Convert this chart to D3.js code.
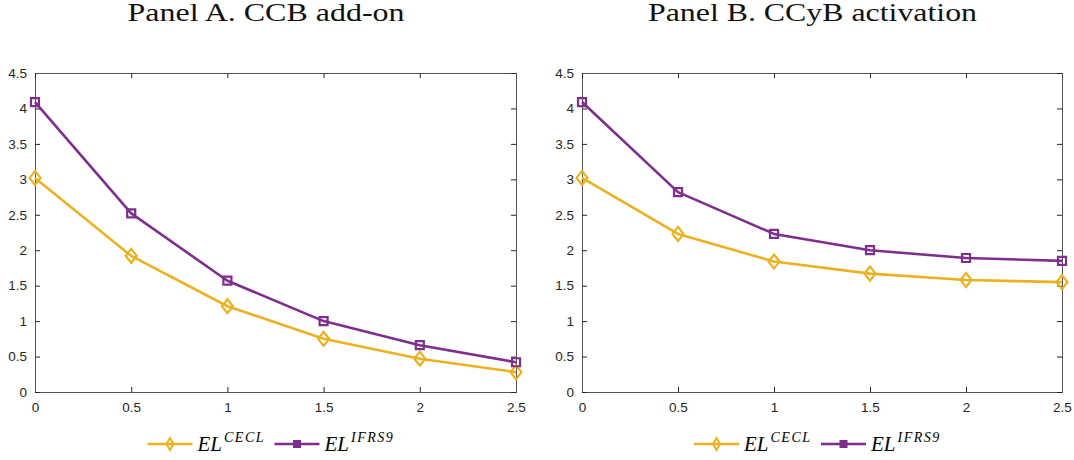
<!DOCTYPE html>
<html><head><meta charset="utf-8">
<script src="https://cdn.jsdelivr.net/npm/d3@7"></script>
<style>body{margin:0;background:#fff}</style>
</head><body>
<svg id="c" width="1074" height="460"></svg>
<script>
const xValues = [0, 0.5, 1, 1.5, 2, 2.5];
const panelTitles = ["Panel A. CCB add-on", "Panel B. CCyB activation"];
const ceclA = [3.02, 1.92, 1.21, 0.75, 0.47, 0.28];
const ifrsA = [4.09, 2.52, 1.57, 1.00, 0.66, 0.42];
const ceclB = [3.02, 2.23, 1.84, 1.67, 1.58, 1.55];
const ifrsB = [4.09, 2.82, 2.23, 2.00, 1.89, 1.85];
const xTicks = [0, 0.5, 1, 1.5, 2, 2.5];
const yTicks = [0, 0.5, 1, 1.5, 2, 2.5, 3, 3.5, 4, 4.5];
const seriesNames = ["CECL", "IFRS9"];

(function () {
const colors = ["#EDB120", "#7E2F8E"];
const svg = d3.select("#c");
const panels = [
  {left: 35, right: 516, title: panelTitles[0], tlen: 277, data: [ceclA, ifrsA]},
  {left: 582, right: 1062, title: panelTitles[1], tlen: 329, data: [ceclB, ifrsB]}
];
const plotTop = 73, plotBottom = 392;
const axisCol = "#262626";

const diamond = (w, h) => ({draw(ctx) {
  ctx.moveTo(0, -h); ctx.lineTo(w, 0); ctx.lineTo(0, h); ctx.lineTo(-w, 0); ctx.closePath();
}});
const square = (s) => ({draw(ctx) {
  ctx.moveTo(-s, -s); ctx.lineTo(s, -s); ctx.lineTo(s, s); ctx.lineTo(-s, s); ctx.closePath();
}});

panels.forEach((p, pi) => {
  const x = d3.scaleLinear().domain([0, 2.5]).range([p.left, p.right]);
  const y = d3.scaleLinear().domain([0, 4.5]).range([plotBottom, plotTop]);
  const g = svg.append("g");
  g.append("text").attr("x", (p.left + p.right) / 2 - 9.5).attr("y", 21)
    .attr("text-anchor", "middle").attr("font-family", "Liberation Serif, serif")
    .attr("font-size", 25).attr("fill", "#111")
    .attr("textLength", p.tlen).attr("lengthAdjust", "spacingAndGlyphs").text(p.title);
  const ax = d3.axisBottom(x).tickValues(xTicks).tickSize(-5).tickPadding(10).tickFormat(d3.format("~g"));
  const ay = d3.axisLeft(y).tickValues(yTicks).tickSize(-5).tickPadding(8).tickFormat(d3.format("~g"));
  const axT = d3.axisTop(x).tickValues(xTicks).tickSize(-5).tickFormat("");
  const ayR = d3.axisRight(y).tickValues(yTicks).tickSize(-5).tickFormat("");
  const styleAxis = sel => {
    sel.selectAll("path").attr("stroke", "#555").attr("stroke-width", 1);
    sel.selectAll("line").attr("stroke", axisCol).attr("stroke-width", 1);
    sel.selectAll("text").attr("fill", axisCol).attr("font-family", "Liberation Sans, Arial, sans-serif").attr("font-size", 13.5);
  };
  g.append("g").attr("transform", `translate(0,${plotBottom})`).call(ax).call(styleAxis);
  g.append("g").attr("transform", `translate(${p.left},0)`).call(ay).call(styleAxis);
  g.append("g").attr("transform", `translate(0,${plotTop})`).call(axT).call(styleAxis);
  g.append("g").attr("transform", `translate(${p.right},0)`).call(ayR).call(styleAxis);

  const line = d3.line().x((d, i) => x(xValues[i])).y(d => y(d));
  p.data.forEach((vals, si) => {
    g.append("path").datum(vals).attr("d", line).attr("fill", "none")
      .attr("stroke", colors[si]).attr("stroke-width", 2.6).attr("stroke-linejoin", "round");
    const sym = si === 0 ? diamond(5.5, 7) : square(4);
    g.selectAll(null).data(vals).enter().append("path")
      .attr("d", d3.symbol().type(sym))
      .attr("transform", (d, i) => `translate(${x(xValues[i])},${y(d)})`)
      .attr("fill", "none").attr("stroke", colors[si]).attr("stroke-width", 2.2);
  });

  const lx0 = (p.left + p.right) / 2 - 128;
  const ly = 444;
  const items = [{dx: 0, w: 45}, {dx: 127, w: 45}];
  items.forEach((it, si) => {
    const sx = lx0 + it.dx;
    g.append("line").attr("x1", sx).attr("x2", sx + it.w).attr("y1", ly).attr("y2", ly)
      .attr("stroke", colors[si]).attr("stroke-width", 2.6);
    const sym = si === 0 ? diamond(3.5, 6) : square(3);
    g.append("path").attr("d", d3.symbol().type(sym))
      .attr("transform", `translate(${sx + it.w / 2},${ly})`)
      .attr("fill", si === 0 ? "none" : colors[si]).attr("stroke", colors[si]).attr("stroke-width", 2);
    const t = g.append("text").attr("x", sx + it.w + 5).attr("y", ly + 7)
      .attr("font-family", "Liberation Serif, serif").attr("font-style", "italic")
      .attr("font-size", 21).attr("fill", "#000");
    t.append("tspan").text("EL");
    t.append("tspan").attr("dy", -9).attr("font-size", 14).attr("dx", 2)
      .attr("letter-spacing", 1.5).text(seriesNames[si]);
  });
});
})();
</script>
</body></html>
